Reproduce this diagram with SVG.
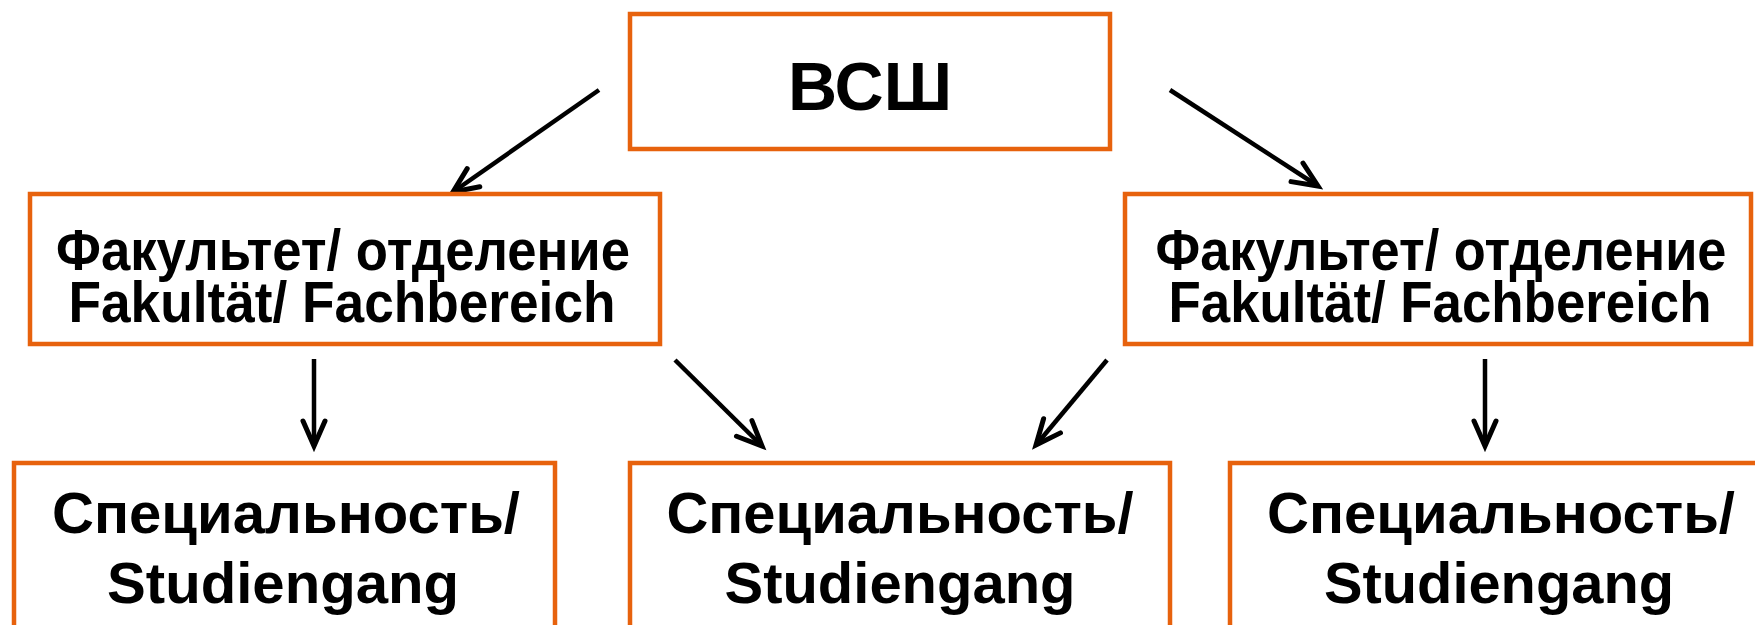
<svg xmlns="http://www.w3.org/2000/svg" width="1755" height="625" viewBox="0 0 1755 625">
<style>
.box{fill:#fff;stroke:#E7620D;stroke-width:4.5}
.t{font-family:"Liberation Sans",Arial,sans-serif;font-weight:bold;fill:#000;text-anchor:middle}
.c{stroke:#000;stroke-width:4.5;fill:none;stroke-linecap:butt}
</style>
<defs>
<marker id="ah" markerUnits="userSpaceOnUse" markerWidth="40" markerHeight="40" refX="0" refY="0" orient="auto" overflow="visible">
<path d="M-25,-11 L0,0 L-25,11" fill="none" stroke="#000" stroke-width="5" stroke-linejoin="miter" stroke-linecap="round"/>
</marker>
</defs>
<rect width="1755" height="625" fill="#fff"/>
<g id="connectors">
<line class="c" x1="599" y1="90" x2="453" y2="192" marker-end="url(#ah)"/>
<line class="c" x1="1170" y1="90" x2="1318" y2="186" marker-end="url(#ah)"/>
<line class="c" x1="314" y1="359" x2="314" y2="446" marker-end="url(#ah)"/>
<line class="c" x1="675" y1="360" x2="762" y2="446" marker-end="url(#ah)"/>
<line class="c" x1="1107" y1="360" x2="1036" y2="445" marker-end="url(#ah)"/>
<line class="c" x1="1485" y1="359" x2="1485" y2="446" marker-end="url(#ah)"/>
</g>
<g id="vsh">
<rect class="box" x="630" y="14" width="480" height="135"/>
<text class="t" x="870" y="110" font-size="68">ВСШ</text>
</g>
<g id="fak-left">
<rect class="box" x="30" y="194" width="630" height="150"/>
<text class="t" x="343" y="270" font-size="57" textLength="574" lengthAdjust="spacingAndGlyphs">Факультет/ отделение</text>
<text class="t" x="342" y="322" font-size="57" textLength="547" lengthAdjust="spacingAndGlyphs">Fakultät/ Fachbereich</text>
</g>
<g id="fak-right">
<rect class="box" x="1125" y="194" width="626" height="150"/>
<text class="t" x="1441" y="270" font-size="57" textLength="571" lengthAdjust="spacingAndGlyphs">Факультет/ отделение</text>
<text class="t" x="1440" y="322" font-size="57" textLength="543" lengthAdjust="spacingAndGlyphs">Fakultät/ Fachbereich</text>
</g>
<g id="spec-left">
<rect class="box" x="14" y="463" width="541" height="200"/>
<text class="t" x="286" y="533" font-size="57" textLength="468" lengthAdjust="spacingAndGlyphs">Специальность/</text>
<text class="t" x="283" y="603" font-size="57" textLength="352" lengthAdjust="spacingAndGlyphs">Studiengang</text>
</g>
<g id="spec-mid">
<rect class="box" x="630" y="463" width="540" height="200"/>
<text class="t" x="900" y="533" font-size="57" textLength="467" lengthAdjust="spacingAndGlyphs">Специальность/</text>
<text class="t" x="900" y="603" font-size="57" textLength="351" lengthAdjust="spacingAndGlyphs">Studiengang</text>
</g>
<g id="spec-right">
<rect class="box" x="1230" y="463" width="560" height="200"/>
<text class="t" x="1501" y="533" font-size="57" textLength="468" lengthAdjust="spacingAndGlyphs">Специальность/</text>
<text class="t" x="1499" y="603" font-size="57" textLength="350" lengthAdjust="spacingAndGlyphs">Studiengang</text>
</g>
</svg>
